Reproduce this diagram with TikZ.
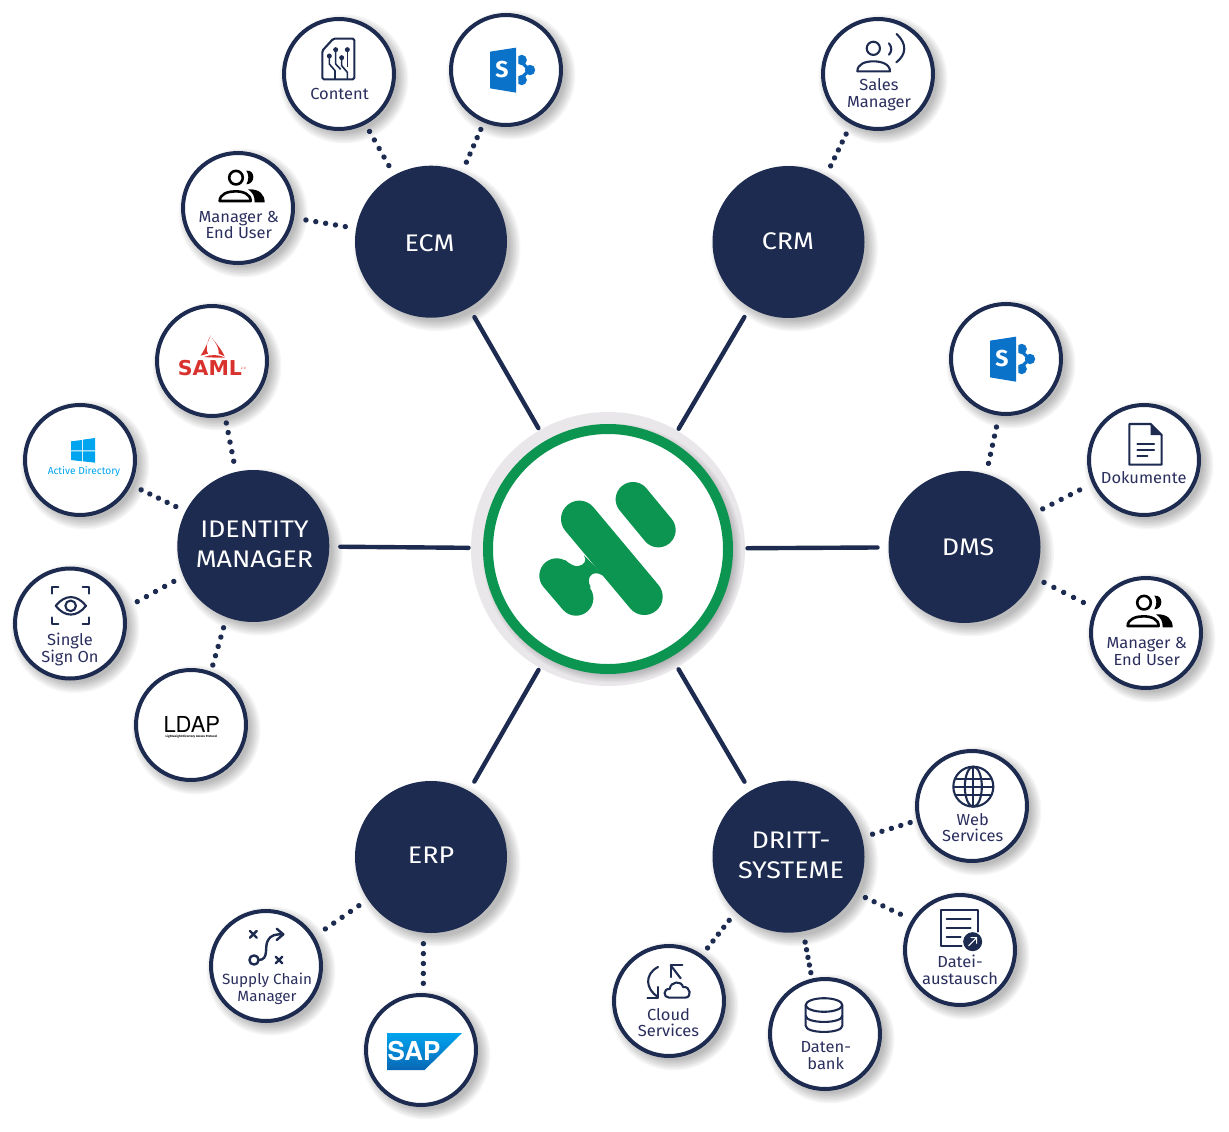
\documentclass[tikz,border=0pt]{standalone}
\usepackage{fontspec}
\setmainfont{Fira Sans}
\newfontfamily\herosfont{TeX Gyre Heros}
\newfontfamily\dejafont{DejaVu Sans}
\newfontfamily\hubfont[FakeStretch=1.12]{Fira Sans}
\newfontfamily\lblfont[FakeStretch=1.03]{Fira Sans}
\usetikzlibrary{decorations.markings,calc}
\definecolor{navy}{HTML}{1C2B4F}
\definecolor{txtnavy}{HTML}{2B2F5E}
\definecolor{hgreen}{HTML}{0C9550}
\definecolor{spblue}{HTML}{0A72C9}
\definecolor{adblue}{HTML}{00A4EF}
\definecolor{samlred}{HTML}{D9322E}
\definecolor{coregrey}{HTML}{E9E7EA}
\tikzset{
  hub/.style={circle,fill=navy,minimum size=152pt,inner sep=0pt,outer sep=11pt},
  hubtxt/.style={inner sep=0pt,text=white,align=center,font=\hubfont\fontsize{24}{29.3}\selectfont},
  sat/.style={circle,draw=navy,line width=4pt,fill=white,minimum size=110pt,inner sep=0pt},
  lbl/.style={inner sep=0pt,text=txtnavy,align=center,font=\lblfont\fontsize{16}{16.8}\selectfont},
  link/.style={draw=navy,line width=4.4pt,line cap=round,shorten <=1.5pt},
  dotlink/.style={draw=none,decoration={markings,
     mark=at position 0.0001 with {\fill[navy] (0,0) circle[radius=2.7pt];},
     mark=at position 0.25 with {\fill[navy] (0,0) circle[radius=2.7pt];},
     mark=at position 0.5 with {\fill[navy] (0,0) circle[radius=2.7pt];},
     mark=at position 0.75 with {\fill[navy] (0,0) circle[radius=2.7pt];},
     mark=at position 0.9999 with {\fill[navy] (0,0) circle[radius=2.7pt];}},decorate},
  ico/.style={draw=navy,line width=2.1pt,line cap=round,line join=round},
  bico/.style={draw=black,line width=2.6pt,line cap=round,line join=round},
}
\newcommand\softshadow[4]{%
  \foreach \k in {0,...,7}{%
    \pgfmathsetmacro\rr{#3-3+\k*1.5}%
    \fill[black,opacity=.035] ({#1+#4},{#2+#4}) circle[radius=\rr pt];}}
\newcommand\satnode[4]{\softshadow{#2}{#3}{57}{5}\node[sat,outer sep=#4pt] (#1) at (#2,#3) {};}
\newcommand\hubnode[3]{\softshadow{#2}{#3}{76}{6}\node[hub] (#1) at (#2,#3) {};}
\newenvironment{icon}[2]{\begin{scope}[shift={(#1,#2)},x=.33333pt,y=-.33333pt]}{\end{scope}}
\newcommand\spicon[3]{\begin{icon}{#1}{#2}
  \fill[spblue] (-48,-55) -- (30,-67) -- (30,68) -- (-48,55) -- cycle;
  \begin{scope}
    \clip (37,-60) rectangle (95,60);
    \draw[spblue,line width=3.2pt,line join=round] (40,-30) -- (70,0) -- (40,30);
    \fill[spblue] (47,-30) circle[radius=5.2pt] (47,30) circle[radius=5.2pt] (72,0) circle[radius=5.2pt];
  \end{scope}
  \node[inner sep=0pt,text=white,font=\fontsize{23}{23}\bfseries\selectfont] (#3) at (-12,0) {S};
\end{icon}}
\begin{document}
\begin{tikzpicture}[x=1pt,y=-1pt]
\useasboundingbox (0,0) rectangle (1229,1132);
\fill[white] (0,0) rectangle (1229,1132);

% centre
\node[circle,fill=coregrey,minimum size=274pt,inner sep=0pt,outer sep=1pt] (core) at (608,549) {};
\softshadow{608}{549}{122}{4}
\node[circle,draw=hgreen,fill=white,line width=10pt,minimum size=240pt,inner sep=0pt] (ring) at (608,549) {};

% logo
\begin{scope}[shift={(470,410)},x=.33333pt,y=-.33333pt]
  \draw[hgreen,line width=34.7pt,line cap=round] (489,268) -- (565,360);
  \draw[hgreen,line width=36.7pt,line cap=round] (328,327) -- (523,560);
  \draw[hgreen,line width=34.7pt,line cap=round] (260,497) -- (318,565);
  \fill[hgreen] (285,450) .. controls (303,465) and (315,470) .. (325,468)
     .. controls (342,466) and (352,452) .. (342,436) -- (410,505)
     .. controls (395,492) and (378,485) .. (366,493)
     .. controls (354,502) and (354,516) .. (362,532) -- (300,560) -- cycle;
\end{scope}

% hubs
\hubnode{ecm}{431}{241.7}
\hubnode{crm}{788.5}{242}
\hubnode{idm}{253.3}{546}
\hubnode{dms}{964.5}{547}
\hubnode{erp}{431}{857}
\hubnode{dritt}{788.5}{856.7}
\node[hubtxt] (tecm) at (429.5,243) {ECM};
\node[hubtxt] (tcrm) at (788,241) {CRM};
\node[hubtxt] (tidm) at (254.5,544.5) {IDENTITY\\MANAGER};
\node[hubtxt] (tdms) at (968,547) {DMS};
\node[hubtxt] (terp) at (431,855) {ERP};
\node[hubtxt] (tdritt) at (791,855.5) {DRITT-\\SYSTEME};

% satellites
\satnode{content}{339}{74}{10}
\satnode{spa}{506}{70}{9.5}
\satnode{mgra}{238}{208}{14}
\satnode{sales}{878}{74}{13}
\satnode{saml}{212}{361}{8.6}
\satnode{ad}{80}{460}{13}
\satnode{sso}{70}{623.5}{15.7}
\satnode{ldap}{191}{725}{8.8}
\satnode{spb}{1006}{359}{13.7}
\satnode{dok}{1144}{460}{16}
\satnode{mgrb}{1146}{633}{14.7}
\satnode{web}{972}{806}{9}
\satnode{datei}{960}{950}{14.5}
\satnode{daten}{825}{1034}{8}
\satnode{cloud}{669}{1001}{10.6}
\satnode{supply}{266}{966}{15}
\satnode{sap}{421}{1050}{11.7}

% solid links
\draw[link] (core) -- (ecm);
\draw[link] (core) -- (crm);
\draw[link] (core) -- (idm);
\draw[link] (core) -- (dms);
\draw[link] (core) -- (erp);
\draw[link] (core) -- (dritt);

% dotted links
\draw[dotlink] (content.-62.7) -- (ecm.119.2);
\draw[dotlink] (spa.-113.8) -- (ecm.66.4);
\draw[dotlink] (mgra.-10.8) -- (ecm.170.1);
\draw[dotlink] (sales.-118) -- (crm.61.9);
\draw[dotlink] (saml.-77.3) -- (idm.103);
\draw[dotlink] (ad.-26.2) -- (idm.153.4);
\draw[dotlink] (sso.18.6) -- (idm.204.5);
\draw[dotlink] (ldap.70) -- (idm.250.7);
\draw[dotlink] (spb.-98.4) -- (dms.74.9);
\draw[dotlink] (dok.205.8) -- (dms.26.1);
\draw[dotlink] (mgrb.154.2) -- (dms.-24.5);
\draw[dotlink] (supply.32.6) -- (erp.214.8);
\draw[dotlink] (sap.88.5) -- (erp.265.5);
\draw[dotlink] (web.195) -- (dritt.15.5);
\draw[dotlink] (datei.149.7) -- (dritt.-28.2);
\draw[dotlink] (daten.103) -- (dritt.-79.8);
\draw[dotlink] (cloud.54.9) -- (dritt.227.4);

% labels
\node[lbl] (lcontent) at (339.5,94) {Content};
\node[lbl] (lmgra) at (238.7,225) {Manager \&\\End User};
\node[lbl] (lsales) at (879,95) {Sales\\Manager};
\node[lbl] (lsso) at (70,649.5) {Single\\Sign On};
\node[lbl] (ldok) at (1143.7,477.7) {Dokumente};
\node[lbl] (lmgrb) at (1146.7,651.5) {Manager \&\\End User};
\node[lbl] (lweb) at (972.7,827.5) {Web\\Services};
\node[lbl] (ldatei) at (960,969.5) {Datei-\\austausch};
\node[lbl] (ldaten) at (825.7,1055.5) {Daten-\\bank};
\node[lbl] (lcloud) at (668.5,1022.5) {Cloud\\Services};
\node[lbl,font=\lblfont\fontsize{14.8}{16.6}\selectfont] (lsupply) at (267,988.5) {Supply Chain\\Manager};

% SharePoint icons
\spicon{506}{70}{sa}
\spicon{1006}{359}{sb}

% Manager icons
\foreach \mx/\my in {238/208,1146/633}{
\begin{icon}{\mx}{\my}
  \draw[bico] (-6,-91) circle[radius=6.8pt];
  \fill[black] (25,-112) .. controls (52,-116) and (54,-72) .. (25,-71) .. controls (33,-85) and (33,-100) .. cycle;
  \draw[bico] (-55,-21) .. controls (-55,-42) and (-30,-50) .. (-8,-50) .. controls (15,-50) and (38,-42) .. (38,-21) -- cycle;
  \fill[black] (30,-56) .. controls (65,-58) and (80,-40) .. (80,-17) -- (50,-17) .. controls (50,-35) and (45,-46) .. (30,-56) -- cycle;
\end{icon}}

% Content icon
\begin{icon}{339}{74}
  \draw[ico,rounded corners=1.5pt] (-50,16) -- (-50,-70) -- (-17,-106) -- (46,-106) -- (46,16) -- cycle;
  \fill[navy] (-29,-54) circle[radius=2.5pt] (-10,-73) circle[radius=2.5pt] (25,-73) circle[radius=2.5pt] (8,-49) circle[radius=2.5pt];
  \draw[navy,line width=1.6pt,line join=round] (-29,-54) -- (-29,-30) -- (-12,-10) -- (-12,16);
  \draw[navy,line width=1.6pt,line join=round] (-10,-73) -- (-10,-30) -- (5,-14);
  \draw[navy,line width=1.6pt,line join=round] (8,-49) -- (8,-25) -- (25,-5) -- (25,16);
  \draw[navy,line width=1.6pt] (25,-73) -- (25,-22);
\end{icon}

% Sales icon
\begin{icon}{878}{74}
  \draw[ico] (-14,-77) circle[radius=6.6pt];
  \draw[ico] (-62,-8) .. controls (-62,-30) and (-38,-38) .. (-14,-38) .. controls (10,-38) and (36,-30) .. (36,-8) -- cycle;
  \draw[ico] (33,-92) .. controls (42,-80) and (42,-68) .. (33,-58);
  \draw[ico] (56,-120) .. controls (88,-90) and (85,-58) .. (55,-35);
\end{icon}

% SAML logo
\begin{icon}{212}{361}
  \fill[samlred] (-4,-77) .. controls (-12,-55) and (-22,-35) .. (-34,-16) -- (-12,-22) .. controls (-20,-34) and (-16,-55) .. (-4,-77) -- cycle;
  \fill[samlred] (-24,-12) .. controls (-5,-20) and (20,-20) .. (40,-10) .. controls (20,-10) and (0,-10) .. (-24,-12) -- cycle;
  \fill[samlred] (-2,-70) .. controls (12,-55) and (28,-35) .. (38,-14) -- (20,-22) .. controls (22,-38) and (12,-55) .. (-2,-70) -- cycle;
  \node[inner sep=0pt,text=samlred,font=\dejafont\bfseries\fontsize{20.5}{20.5}\selectfont] (samltxt) at (-6,22) {SAML};
  \node[inner sep=0pt,text=samlred,font=\dejafont\fontsize{3}{3}\selectfont] (samlver) at (94,22) {2.0};
\end{icon}

% Active Directory
\begin{icon}{80}{460}
  \fill[adblue] (-27,-56) -- (6,-60) -- (6,-29) -- (-27,-29) -- cycle;
  \fill[adblue] (9,-61) -- (45,-66) -- (45,-29) -- (9,-29) -- cycle;
  \fill[adblue] (-27,-26) -- (6,-26) -- (6,4) -- (-27,0) -- cycle;
  \fill[adblue] (9,-26) -- (45,-26) -- (45,8) -- (9,4) -- cycle;
  \node[inner sep=0pt,text=adblue,font=\fontsize{10.2}{10.2}\selectfont] (adtxt) at (12,36) {Active Directory};
\end{icon}

% SSO icon
\begin{icon}{70}{623.5}
  \draw[ico] (-55,-90) -- (-55,-110) -- (-35,-110);
  \draw[ico] (38,-110) -- (58,-110) -- (58,-90);
  \draw[ico] (-55,-18) -- (-55,2) -- (-35,2);
  \draw[ico] (38,2) -- (58,2) -- (58,-18);
  \draw[ico] (-43,-53) .. controls (-15,-88) and (20,-88) .. (48,-53) .. controls (20,-18) and (-15,-18) .. cycle;
  \draw[ico] (2,-53) circle[radius=5.3pt];
\end{icon}

% LDAP
\node[inner sep=0pt,text=black,font=\herosfont\fontsize{22}{22}\selectfont] (ldaptxt) at (191.8,724) {LDAP};
\node[inner sep=0pt,text=black,font=\bfseries\fontsize{3}{3}\selectfont] (ldapsub) at (191.5,736.5) {Lightweight Directory Access Protocol};

% Dokumente icon
\begin{icon}{1144}{460}
  \draw[ico] (-44,14) -- (-44,-108) -- (20,-108) -- (53,-75) -- (53,14) -- cycle;
  \fill[navy] (20,-108) -- (53,-75) -- (20,-75) -- cycle;
  \draw[ico] (-20,-49) -- (30,-49) (-20,-31) -- (30,-31) (-20,-11) -- (10,-11);
\end{icon}

% Globe
\begin{icon}{972}{806}
  \draw[ico] (4,-58) circle[radius=20pt];
  \draw[ico] (4,-58) ellipse[x radius=8.5pt,y radius=20pt];
  \draw[ico] (4,-116) -- (4,0) (-54,-58) -- (62,-58) (-47,-82) -- (55,-82) (-47,-34) -- (55,-34);
\end{icon}

% Datei icon
\begin{icon}{960}{950}
  \draw[ico] (53,-55) -- (53,-120) -- (-57,-120) -- (-57,-13) -- (5,-13);
  \draw[ico] (-40,-93) -- (32,-93) (-40,-67) -- (32,-67) (-40,-40) -- (2,-40);
  \fill[navy] (38,-25) circle[radius=9.5pt];
  \draw[white,line width=1.1pt,line cap=round,line join=round] (26,-13) -- (50,-37) (33,-37) -- (50,-37) -- (50,-20);
\end{icon}

% Database icon
\begin{icon}{825}{1034}
  \draw[ico] (-3,-87) ellipse[x radius=18.3pt,y radius=6.8pt];
  \draw[ico] (-58,-87) -- (-58,-25) .. controls (-58,0) and (52,0) .. (52,-25) -- (52,-87);
  \draw[ico] (-58,-55) .. controls (-58,-30) and (52,-30) .. (52,-55);
\end{icon}

% Cloud icon
\begin{icon}{669}{1001}
  \draw[ico] (-33,-102) .. controls (-75,-80) and (-70,-35) .. (-33,-12);
  \draw[ico] (-65,-10) -- (-33,-10) -- (-33,-42);
  \draw[ico] (5,-72) -- (5,-107) -- (40,-107);
  \draw[ico] (5,-107) -- (35,-68);
  \draw[ico] (0,-10) .. controls (-18,-10) and (-18,-38) .. (2,-36) .. controls (5,-60) and (38,-62) .. (42,-42) .. controls (65,-45) and (70,-10) .. (48,-10) -- cycle;
\end{icon}

% Supply icon
\begin{icon}{266}{966}
  \draw[ico,line width=2.4pt] (-48,-105) -- (-28,-85) (-28,-105) -- (-48,-85);
  \draw[ico,line width=2.4pt] (29,-28) -- (49,-8) (49,-28) -- (29,-8);
  \draw[ico,line width=2.4pt] (-36,-18) circle[radius=4.6pt];
  \draw[ico,line width=2.4pt] (-22,-18) .. controls (10,-18) and (-5,-60) .. (5,-75) .. controls (15,-95) and (30,-95) .. (50,-95);
  \draw[ico,line width=2.4pt] (32,-112) -- (52,-95) -- (32,-78);
\end{icon}

% SAP logo
\begin{icon}{421}{1050}
  \shade[top color=adblue,bottom color=spblue!90!black] (-102,-51) -- (123,-51) -- (11,60) -- (-102,60) -- cycle;
  \node[inner sep=0pt,text=white,font=\herosfont\bfseries\fontsize{26}{26}\selectfont] (saptxt) at (-21,2) {SAP};
\end{icon}
\end{tikzpicture}
\end{document}
